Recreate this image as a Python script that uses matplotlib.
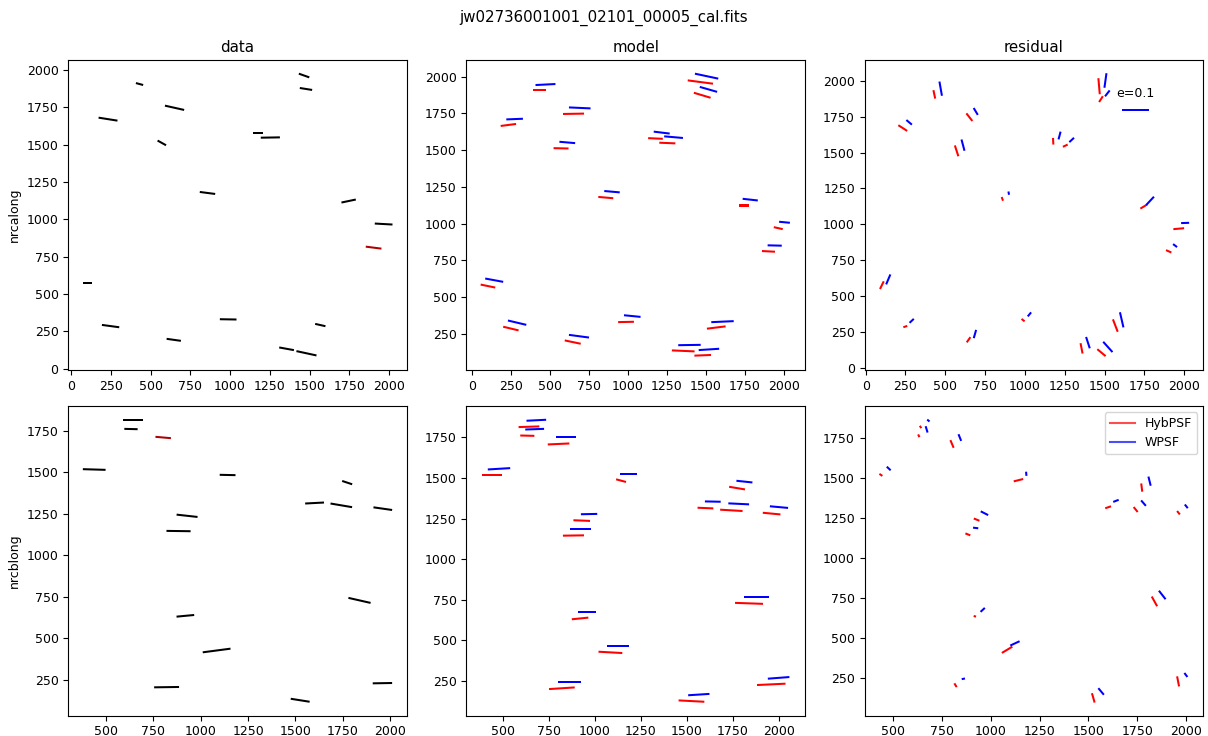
import numpy as np
import matplotlib
matplotlib.use("Agg")
import matplotlib.pyplot as plt
from matplotlib.lines import Line2D
from matplotlib.ticker import MultipleLocator

plt.rcParams['font.size'] = 9

# star positions (pixels on the detector)
xa = [431, 1465, 1477, 651, 233, 1177, 1253, 571, 858, 1745, 1965, 1902, 102, 249, 646, 988, 1567, 1355, 1480]
ya = [1906, 1963, 1873, 1747, 1671, 1579, 1548, 1512, 1177, 1123, 969, 811, 575, 286, 194, 331, 293, 134, 104]
xb = [641, 632, 802, 438, 1142, 1773, 1601, 1742, 1961, 928, 883, 1838, 919, 1084, 820, 1525, 1959]
yb = [1816, 1761, 1710, 1517, 1484, 1438, 1315, 1301, 1281, 1238, 1146, 728, 635, 426, 205, 126, 229]

# nrcalong : ellipticity and angle (deg)
ea_data = [.027, .040, .045, .071, .069, .036, .069, .035, .056, .053, .064, .057, .032, .063, .052, .060, .038, .054, .074]
pa_data = [-15, -19.5, -9, -12.6, -9, 0, 1, -29, -7.4, 11.8, -3.2, -7.3, 0, -7.7, -8, -1, -12.7, -10.3, -12.2]
ea_hyb = [.048, .092, .063, .076, .056, .053, .058, .054, .054, .039, .033, .047, .054, .057, .059, .057, .068, .082, .060]
pa_hyb = [0, -7.5, -16.7, 1, 7.4, -2.6, -2.4, -1.3, -5, 0, -12.5, -3, -11.6, -13.4, -11.8, 1.2, 7.1, -2.5, 2.3]
ea_wpsf = [.072, .086, .065, .078, .060, .058, .068, .057, .056, .055, .039, .051, .066, .068, .073, .060, .081, .081, .074]
pa_wpsf = [2.9, -12, -16, -2.6, 2.3, -7, -5, -4.9, -5, -6.3, -5.4, -1.4, -10.5, -13.3, -7.6, -5.7, 2.6, 0.9, 3.7]
ea_rhyb = [.031, .058, .025, .035, .038, .024, .019, .041, .014, .028, .039, .021, .031, .015, .023, .014, .048, .038, .039]
pa_rhyb = [102, 95, 57, 128, 147, 93, 25, 108, 110, 31, 5, -24, 64, 18, 55, 142, 111, 101, 140]
ea_rwpsf = [.052, .053, .027, .029, .026, .029, .023, .042, .012, .041, .029, .018, .039, .021, .031, .019, .056, .043, .050]
pa_rwpsf = [100, 82, 52, 121, 140, 75, 43, 105, 100, 47, 2, -37, 67, 43, 74, 50, 103, 108, 132]

# nrcblong
eb_data = [.072, .048, .056, .082, .057, .038, .068, .079, .068, .076, .087, .082, .064, .101, .090, .069, .070]
pb_data = [0, -1.4, -5, -1.7, -1.2, -18.4, 3, -9.6, -8.1, -6.3, -0.8, -12.8, 5.4, 7.5, 0.8, -9, 1]
eb_hyb = [.075, .051, .078, .072, .037, .058, .057, .081, .064, .060, .076, .101, .060, .086, .093, .093, .103]
pb_hyb = [1.8, -1.4, 2.6, 0, -15, -9.5, -2.4, -3.4, -5.4, -2.3, 0.9, -2, 5.7, -3.2, 3.7, -3, 2.7]
eb_wpsf = [.071, .068, .071, .081, .062, .058, .057, .075, .066, .059, .075, .090, .065, .081, .084, .077, .078]
pb_wpsf = [2.9, 2, 0, 3.4, 0, -6, -1.2, -2.8, -5.2, 1.2, 0, 0, 0, 0, 0, 3.6, 4.4]
eb_rhyb = [.010, .011, .030, .013, .035, .030, .022, .023, .016, .022, .019, .040, .009, .044, .016, .035, .037]
pb_rhyb = [126, 117, 113, 146, 14, 97, 19, 129, 129, 158, 158, 119, 165, 31, 122, 106, 101]
eb_rwpsf = [.011, .024, .026, .019, .015, .034, .021, .026, .017, .030, .019, .039, .021, .037, .012, .031, .018]
pb_rwpsf = [140, 107, 112, 137, 95, 104, 21, 131, 129, 153, 173, 128, 43, 25, 11, 130, 127]

# star flagged in the data panel
flag_a = 11
flag_b = 2

SCALE = 1.222
OFF = 40  # wpsf whiskers shifted so they don't sit on top of hybpsf


def whisk(ax, x, y, e, pa, color, dx=0):
    x = np.asarray(x) + dx
    y = np.asarray(y) + dx
    t = np.deg2rad(pa)
    e = np.asarray(e)
    return ax.quiver(x, y, e * np.cos(t), e * np.sin(t), color=color,
                     angles='uv', scale_units='width', scale=SCALE,
                     pivot='middle', headwidth=0, headlength=0,
                     headaxislength=0, width=0.006, minlength=0)


fig = plt.figure(figsize=(12.08, 7.36), dpi=100)
axs = fig.subplots(2, 3)
fig.subplots_adjust(left=0.0565, right=0.9961, top=0.9185, bottom=0.0276,
                    wspace=0.176, hspace=0.116)

chips = [
    (xa, ya, ea_data, pa_data, ea_hyb, pa_hyb, ea_wpsf, pa_wpsf,
     ea_rhyb, pa_rhyb, ea_rwpsf, pa_rwpsf, flag_a, 'nrcalong'),
    (xb, yb, eb_data, pb_data, eb_hyb, pb_hyb, eb_wpsf, pb_wpsf,
     eb_rhyb, pb_rhyb, eb_rwpsf, pb_rwpsf, flag_b, 'nrcblong'),
]

for row, c in enumerate(chips):
    x, y, ed, pd_, eh, ph, ew, pw, erh, prh, erw, prw, flag, name = c
    cols = ['k'] * len(x)
    cols[flag] = '#b00000'
    whisk(axs[row, 0], x, y, ed, pd_, cols)
    whisk(axs[row, 1], x, y, eh, ph, 'r')
    whisk(axs[row, 1], x, y, ew, pw, 'b', OFF)
    whisk(axs[row, 2], x, y, erh, prh, 'r')
    Q = whisk(axs[row, 2], x, y, erw, prw, 'b', OFF)
    axs[row, 0].set_ylabel(name)
    if row == 0:
        axs[row, 2].quiverkey(Q, 0.80, 0.839, 0.1, 'e=0.1', labelpos='N',
                              coordinates='axes')

for ax, t in zip(axs[0], ['data', 'model', 'residual']):
    ax.set_title(t)

lims = [
    [((-17, 2111), (-7, 2067)), ((-36, 2137), (5, 2113)), ((-6, 2119), (-16, 2146))],
    [((301, 2088), (33, 1901)), ((301, 2143), (36, 1945)), ((355, 2088), (15, 1948))],
]
for r in range(2):
    for k in range(3):
        axs[r, k].set_xlim(*lims[r][k][0])
        axs[r, k].set_ylim(*lims[r][k][1])
for ax in axs[1]:
    ax.xaxis.set_major_locator(MultipleLocator(250))

handles = [Line2D([0], [0], color='r', alpha=0.7),
           Line2D([0], [0], color='b', alpha=0.7)]
axs[1, 2].legend(handles, ['HybPSF', 'WPSF'], loc='upper right')

fig.suptitle('jw02736001001_02101_00005_cal.fits', y=0.976, va='center')

fig.savefig('out.png', dpi=100)
